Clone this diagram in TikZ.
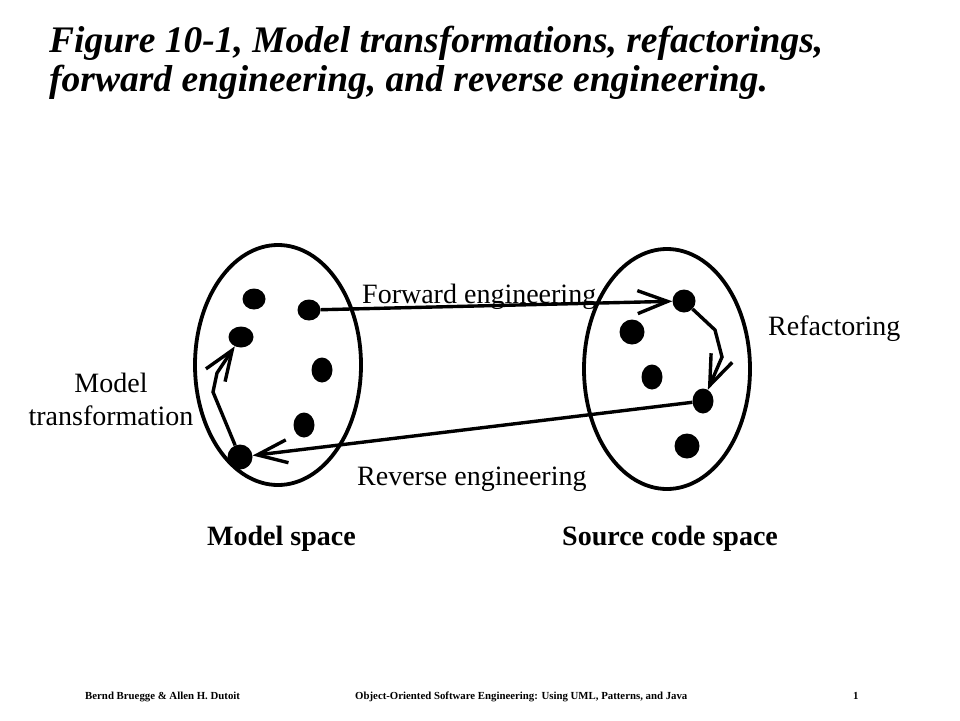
\documentclass[tikz,border=0pt]{standalone}
\usepackage{fontspec}
\setmainfont{Liberation Serif}
\usetikzlibrary{shapes.geometric,arrows.meta}

\begin{document}
\begin{tikzpicture}[x=1pt,y=-1pt,
  space/.style={draw, ellipse, line width=3.8pt, minimum width=166pt, minimum height=240pt, inner sep=0pt},
  dot/.style={fill, ellipse, inner sep=0pt, minimum width=23pt, minimum height=21pt},
  tall/.style={minimum width=21pt, minimum height=25pt},
  big/.style={minimum width=25pt, minimum height=25pt},
  flow/.style={line width=3.4pt, -{Straight Barb[length=30pt, width=23pt]}},
  lbl/.style={anchor=base west, inner sep=0pt, font=\fontsize{28}{33}\selectfont},
  foot/.style={anchor=base west, inner sep=0pt, font=\bfseries\fontsize{10.8}{12}\selectfont}]
\useasboundingbox (0,0) rectangle (960,720);

% title
\node[anchor=base west, inner sep=0pt, align=left, font=\bfseries\itshape\fontsize{37.5}{39}\selectfont] (title) at (49,91)
  {Figure 10-1, Model transformations, refactorings,\\forward engineering, and reverse engineering.};

% the two spaces
\node[space] (mspace) at (278,365) {};
\node[space] (sspace) at (667,369) {};

% model space elements
\node[dot] (m1) at (254,299) {};
\node[dot] (m2) at (309,310) {};
\node[dot, minimum width=25pt] (m3) at (241,337) {};
\node[dot, tall] (m4) at (322,370) {};
\node[dot, tall] (m5) at (304,425) {};
\node[dot, big] (m6) at (240,457) {};

% source code space elements
\node[dot, minimum height=23pt] (s1) at (684,301) {};
\node[dot, big] (s2) at (632,332) {};
\node[dot, tall] (s3) at (652,377) {};
\node[dot, tall] (s4) at (703,401) {};
\node[dot, big] (s5) at (687,446) {};

\coordinate (r1) at (715,330);
\coordinate (r2) at (722,357);
\coordinate (t1) at (213,392);
\coordinate (t2) at (217,373);

\draw[flow] (m2) -- (s1);
\draw[flow] (s1) -- (r1) -- (r2) -- (s4);
\draw[flow] (s4) -- (m6);
\draw[flow] (m6) -- (t1) -- (t2) -- (m3);

% labels
\node[lbl] (fwd) at (362,303) {Forward engineering};
\node[lbl] (ref) at (768,335) {Refactoring};
\node[lbl, anchor=base, align=center] (mt) at (111,425) {Model\\transformation};
\node[lbl] (rev) at (357,485) {Reverse engineering};
\node[lbl, font=\bfseries\fontsize{28}{33}\selectfont] (mlbl) at (207,545) {Model space};
\node[lbl, font=\bfseries\fontsize{28}{33}\selectfont] (slbl) at (562,545) {Source code space};

% footer
\node[foot] (auth) at (85,699) {Bernd Bruegge \& Allen H. Dutoit};
\node[foot] (book) at (355,699) {Object-Oriented Software Engineering: Using UML, Patterns, and Java};
\node[foot] (page) at (853,699) {1};
\end{tikzpicture}
\end{document}
